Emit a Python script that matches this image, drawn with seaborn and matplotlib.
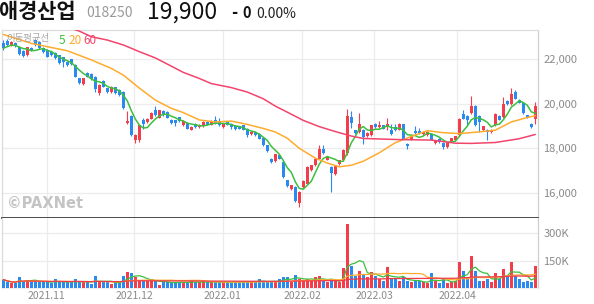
import numpy as np
import pandas as pd
import matplotlib
matplotlib.use("Agg")
import matplotlib.pyplot as plt
import seaborn as sns

# ---------------- data ----------------
opens = [22730,22820,22650,22700,22550,22370,22180,22480,22850,22780,
22480,22400,22330,22280,22180,22080,21880,21990,21730,21130,
20880,21360,21325,21200,20460,21010,20685,20530,20730,20607,
20530,19140,19440,18390,18360,19290,19180,19335,19708,19380,
19680,19630,19290,19260,19380,19034,19140,18840,19110,18960,
19000,19180,19065,19260,19230,18960,19180,19110,18990,18990,
19034,18885,18630,18735,18660,18480,18135,17540,17430,17686,
17390,16560,16170,16260,15540,16260,16410,17010,17236,17540,
17990,17490,17160,16830,17280,17460,17800,19380,18810,18735,
18840,18540,18585,19110,18960,19034,18960,18840,18960,18840,
19080,18210,18390,18760,18760,18630,18585,18660,18240,18435,
18240,18060,18300,18390,18585,19530,19440,19560,19890,19440,
18810,18840,18735,19034,19440,19410,20130,19980,20530,20160,
20010,19483,19110,19335]

highs = [22850,22900,22800,22760,22600,22420,22560,22560,22900,22820,
22520,22430,22380,22300,22200,22100,21920,22020,21760,21160,
21160,21400,21360,21230,20860,21040,20720,20780,20760,20640,
20560,19680,19480,18620,19060,19380,19360,19620,19890,19730,
19710,19660,19320,19290,19410,19260,19170,18990,19140,19070,
19210,19210,19260,19440,19350,19140,19210,19140,19020,19020,
19060,18910,18760,18760,18690,18510,18160,17570,17760,17720,
17420,16590,16360,16290,16080,16560,17190,17260,17570,18135,
18135,17640,17190,17260,17490,17970,19760,19650,18840,19600,
18870,18720,19060,19140,19240,19060,19380,19100,19110,19140,
19110,18240,18570,19000,18910,18760,18760,18690,18390,18460,
18270,18270,18480,18570,19360,19708,19470,20340,19920,19470,
19020,18870,18870,19560,19470,20305,20160,20680,20600,20190,
20040,19510,19140,20080]

lows = [22420,22600,22600,22540,22180,22100,22150,22380,22600,22450,
22280,22080,22150,22000,21780,21650,21700,21740,21180,20900,
20850,21180,21060,20530,20400,20730,20500,20500,20440,20360,
19760,19110,18560,18240,18300,18885,19150,19310,19460,19350,
19460,19350,19110,19000,19200,19000,18860,18810,18930,18930,
18970,19040,19040,19090,19010,18930,19040,18880,18830,18850,
18810,18510,18600,18560,18410,18110,17850,17360,17400,17510,
16680,16260,16140,15600,15360,16230,16380,16980,17210,17510,
17760,17460,16040,16800,17250,17430,17700,18930,18660,18700,
18210,18510,18560,18930,18930,18860,18830,18610,18780,18800,
18410,17990,18360,18660,18660,18600,18560,18360,18210,18260,
17990,18030,18300,18360,18560,19300,19040,19530,19000,18735,
18780,18360,18700,19000,19260,19380,19950,19950,20200,20010,
19530,19350,18930,19110]

closes = [22480,22630,22750,22580,22230,22140,22520,22400,22630,22480,
22300,22100,22180,22030,21800,21880,21730,21760,21200,20935,
21130,21205,21090,20650,20830,20755,20530,20755,20460,20382,
19785,19230,18585,18585,19034,19110,19335,19590,19483,19708,
19483,19380,19140,19140,19230,19230,18885,18960,18960,19034,
19180,19065,19230,19110,19034,19110,19065,18960,18855,18880,
18840,18585,18735,18585,18435,18135,17880,17390,17730,17540,
16710,16290,16338,15630,16055,16530,17160,17236,17540,17990,
17790,17610,16890,17236,17460,17940,19450,19140,18690,19080,
18510,18690,19034,18960,19065,18885,19110,18630,18810,19080,
18435,18090,18540,18690,18690,18735,18735,18390,18360,18285,
18060,18240,18460,18540,19335,19335,19290,19890,19034,19180,
18990,18735,18840,19530,19290,19980,19980,20430,20230,20040,
19560,19380,18960,19900]

volume_k = [46,31,25,25,62,36,44,36,36,31,
31,36,25,49,31,31,31,31,49,31,
31,31,22,68,31,31,31,22,31,31,
68,89,80,58,40,36,40,49,40,18,
31,31,31,31,31,31,31,36,31,31,
36,31,36,31,31,31,31,31,40,31,
31,40,31,36,49,31,31,31,40,49,
62,58,31,73,49,40,49,36,58,68,
36,31,49,36,31,110,351,122,68,95,
77,58,86,68,49,40,117,49,49,40,
62,36,31,36,36,31,25,80,40,25,
49,25,31,36,140,95,62,177,95,40,
40,49,31,80,49,104,68,144,68,49,
31,40,31,122]

# moving averages (20 / 60 day) at these candle indices
ma20_idx = [0, 7, 16, 22, 27, 30, 34, 38, 42, 45, 49, 53, 57, 61, 65, 68, 71, 74, 78,
            81, 84, 87, 90, 94, 98, 102, 106, 110, 114, 119, 123, 127, 131, 133]
ma20_val = [23100, 22700, 22370, 21960, 21580, 21280, 20700, 20160, 19790, 19600, 19270,
            19180, 19220, 19070, 18890, 18730, 18450, 18000, 17560, 17340, 17170, 17240,
            17420, 17800, 18250, 18530, 18790, 18700, 18660, 18735, 18810, 19180, 19380, 19460]
ma60_idx = [0, 10, 19, 22, 26, 30, 34, 38, 42, 45, 49, 52, 57, 61, 65, 68, 71, 75, 79,
            83, 87, 90, 99, 107, 113, 117, 123, 129, 133]
ma60_val = [24300, 23800, 23250, 23000, 22850, 22630, 22330, 22050, 21680, 21400, 21130,
            20900, 20720, 20520, 20220, 19890, 19620, 19250, 18970, 18750, 18550, 18440,
            18390, 18370, 18230, 18220, 18260, 18430, 18620]

month_labels = ["2021.11", "2021.12", "2022.01", "2022.02", "2022.03", "2022.04"]
month_pos = [10.85, 32.75, 54.8, 74.75, 92.75, 113.5]
price_ticks = [16000, 18000, 20000, 22000]
vol_ticks = [150000, 300000]
vol_tick_labels = ["150K", "300K"]

# ---------------- styling ----------------
sns.set_theme(style="white")
plt.rcParams['font.family'] = ['Noto Sans CJK KR', 'DejaVu Sans']

UP = "#f23d4c"
DOWN = "#2a8af0"
C5 = "#3cbf3c"
C20 = "#ffab2e"
C60 = "#f2446c"
GRID = "#ececec"
TXT = "#8a8a8a"

n = len(closes)
df = pd.DataFrame({"i": np.arange(n), "o": opens, "h": highs, "l": lows,
                   "c": closes, "v": np.array(volume_k) * 1000})
df["up"] = df["c"] > df["o"]
df["col"] = np.where(df["up"], UP, DOWN)
df["ma5"] = df["c"].rolling(5, min_periods=1).mean()
df["v5"] = df["v"].rolling(5, min_periods=1).mean()
df["v20"] = df["v"].rolling(20, min_periods=1).mean()
df["v60"] = df["v"].rolling(60, min_periods=1).mean()

W, H = 594, 304
fig = plt.figure(figsize=(W / 100, H / 100), dpi=100)


def px_axes(x0, y0, x1, y1):
    return fig.add_axes([x0 / W, 1 - y1 / H, (x1 - x0) / W, (y1 - y0) / H])


axp = px_axes(2, 30, 538, 217.5)
axv = px_axes(2, 217.5, 538, 288)

xl = (-0.33, 133.68)

# ---- price panel ----
body_lo = np.minimum(df["o"], df["c"])
body_h = np.maximum(np.abs(df["c"] - df["o"]), 25)
axp.vlines(df["i"], df["l"], df["h"], colors=df["col"], lw=0.8, zorder=3)
axp.bar(df["i"], body_h, bottom=body_lo, width=0.7, color=df["col"], lw=0, zorder=3)

sns.lineplot(data=df, x="i", y="ma5", ax=axp, color=C5, lw=1.1, zorder=4, estimator=None, sort=False)
sns.lineplot(x=ma20_idx, y=ma20_val, ax=axp, color=C20, lw=1.1, zorder=4, estimator=None, sort=False)
sns.lineplot(x=ma60_idx, y=ma60_val, ax=axp, color=C60, lw=1.1, zorder=4, estimator=None, sort=False)

axp.set_xlim(*xl)
axp.set_ylim(14900, 23300)
axp.set_yticks(price_ticks)
axp.set_yticklabels([f"{t:,}" for t in price_ticks])
axp.set_xticks(month_pos)
axp.set_xticklabels([])
axp.yaxis.tick_right()
axp.tick_params(axis="y", length=0, pad=4, labelsize=8, labelcolor=TXT)
axp.tick_params(axis="x", length=0)
axp.grid(True, color=GRID, lw=0.9)
axp.set_axisbelow(True)
axp.set_xlabel("")
axp.set_ylabel("")
for s in ["top", "left"]:
    axp.spines[s].set_color("#dcdcdc")
    axp.spines[s].set_linewidth(0.9)
axp.spines["right"].set_color("#cfcfcf")
axp.spines["right"].set_linewidth(0.9)
axp.spines["bottom"].set_color("#3a3a3a")
axp.spines["bottom"].set_linewidth(1.3)


def ptext(x, y, s, **kw):
    # place text inside the price axes by pixel position in the figure
    fig.text(x / W, 1 - y / H, s, va="center", ha="left", zorder=6, **kw)


ptext(6, 39, "이동평균선", fontsize=6.8, color="#9a9a9a", alpha=0.85)
ptext(59, 40, "5", fontsize=8.5, color=C5)
ptext(68, 40, "20", fontsize=8.5, color=C20)
ptext(83, 40, "60", fontsize=8.5, color=C60)
axp.text(0.009, 0.075, "©PAXNet", transform=axp.transAxes, fontsize=10.5, color="#c4c4c4",
         fontweight="bold", va="center", ha="left", family=["DejaVu Sans"], zorder=1)

# ---- volume panel ----
axv.bar(df["i"], df["v"], width=0.7, color=df["col"], lw=0, zorder=3)
sns.lineplot(data=df, x="i", y="v5", ax=axv, color=C5, lw=0.9, zorder=4, estimator=None, sort=False)
sns.lineplot(data=df, x="i", y="v20", ax=axv, color=C20, lw=0.9, zorder=4, estimator=None, sort=False)
sns.lineplot(data=df, x="i", y="v60", ax=axv, color="#f03a48", lw=0.9, zorder=4, estimator=None, sort=False)

axv.set_xlim(*xl)
axv.set_ylim(0, 385000)
axv.set_yticks(vol_ticks)
axv.set_yticklabels(vol_tick_labels)
axv.yaxis.tick_right()
axv.set_xticks(month_pos)
axv.set_xticklabels(month_labels)
axv.tick_params(axis="y", length=0, pad=4, labelsize=8, labelcolor=TXT)
axv.tick_params(axis="x", length=0, pad=2, labelsize=7.5, labelcolor=TXT)
axv.grid(True, color=GRID, lw=0.9)
axv.set_axisbelow(True)
axv.set_xlabel("")
axv.set_ylabel("")
axv.spines["top"].set_visible(False)
axv.spines["left"].set_color("#dcdcdc")
axv.spines["right"].set_color("#cfcfcf")
axv.spines["bottom"].set_color("#eeeeee")
for s in ["left", "right", "bottom"]:
    axv.spines[s].set_linewidth(0.9)

# ---- header ----
def ftext(x, y, s, **kw):
    fig.text(x / W, 1 - y / H, s, va="center", ha="left", **kw)

ftext(-1, 12, "애경산업", fontsize=15, fontweight="bold", color="#111111")
ftext(86, 13, "018250", fontsize=10, color="#9a9a9a")
ftext(147, 12, "19,900", fontsize=16.5, color="#111111")
ftext(231, 13, "-", fontsize=12, fontweight="bold", color="#111111")
ftext(242, 13.5, "0", fontsize=10.5, fontweight="bold", color="#111111")
ftext(256, 13.5, "0.00%", fontsize=10, color="#222222")

fig.savefig("out.png", dpi=100)
